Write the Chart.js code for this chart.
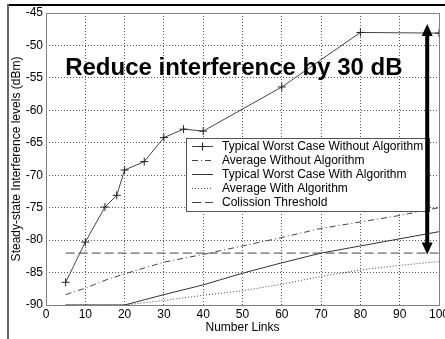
<!DOCTYPE html>
<html lang="en">
<head>
  <meta charset="UTF-8" />
  <title>Steady-state interference</title>
  <script src="https://cdn.jsdelivr.net/npm/chart.js"></script>
  <style>
    html, body { margin: 0; padding: 0; background: #fff; overflow: hidden; }
    #wrap { position: relative; width: 445px; height: 339px; }
    canvas { position: absolute; left: 0; top: 0; }
    .frameTop { position: absolute; left: 7px; top: 4px; width: 438px; height: 2px; background: #000; }
    .frameLeft { position: absolute; left: 7px; top: 4px; width: 2px; height: 335px; background: #666; }
  </style>
</head>
<body>
  <div id="wrap">
    <canvas id="chart" width="445" height="339"></canvas>
    <div class="frameTop"></div>
    <div class="frameLeft"></div>
  </div>

  <script>
    // values
    const linksWorst = [5, 10, 15, 18, 20, 25, 30, 35, 40, 60, 80, 100];
    const worstNoAlg = [-86.5, -80.3, -74.9, -73.1, -69.2, -67.9, -64.2, -62.9, -63.2, -56.4, -48.0, -48.1];

    const links = [5, 10, 15, 20, 25, 30, 40, 50, 60, 70, 80, 90, 100];
    const avgNoAlg = [-88.4, -87.4, -86.2, -85.2, -84.3, -83.4, -82.2, -80.9, -79.6, -78.2, -77.2, -76.2, -75.0];
    const worstAlg = [-90, -90, -90, -90, -89.2, -88.4, -86.9, -85.1, -83.5, -82.0, -80.9, -79.8, -78.7];
    const avgAlg = [-90, -90, -90, -90, -89.65, -89.3, -88.5, -87.8, -86.8, -85.6, -84.6, -83.9, -83.3];
    const threshold = -82;

    const seriesNames = [
      'Typical Worst Case Without Algorithm',
      'Average Without Algorithm',
      'Typical Worst Case With Algorithm',
      'Average With Algorithm',
      'Colission Threshold'
    ];

    const note = 'Reduce interference by 30 dB';
    const noteAt = { x: 47.8, y: -54.6 };
    const arrow = { x: 97, top: -46.7, bottom: -82.2 };

    const FONT = '"Liberation Sans", Arial, sans-serif';
    const pts = (xs, ys) => xs.map((x, i) => ({ x: x, y: ys[i] }));

    const overlay = {
      id: 'overlay',
      afterDatasetsDraw(chart) {
        const { ctx, chartArea: a, scales: { x, y } } = chart;
        ctx.save();

        // plot box
        ctx.strokeStyle = '#808080';
        ctx.lineWidth = 1;
        ctx.setLineDash([]);
        ctx.strokeRect(Math.round(a.left) + 0.5, Math.round(a.top) + 0.5,
          Math.round(a.right - a.left), Math.round(a.bottom - a.top));

        // big note
        ctx.fillStyle = '#000';
        ctx.font = 'bold 24px ' + FONT;
        ctx.textAlign = 'center';
        ctx.textBaseline = 'alphabetic';
        ctx.fillText(note, x.getPixelForValue(noteAt.x), y.getPixelForValue(noteAt.y));

        // legend box
        const bx = 186.5, by = 138.5, bw = 243, bh = 73;
        ctx.fillStyle = '#fff';
        ctx.fillRect(bx, by, bw, bh);
        ctx.strokeStyle = '#555';
        ctx.strokeRect(bx, by, bw, bh);
        ctx.font = '12px ' + FONT;
        ctx.textAlign = 'left';
        ctx.textBaseline = 'middle';
        chart.data.datasets.forEach((ds, i) => {
          const ry = Math.round(146 + i * 13.9) + 0.5;
          ctx.strokeStyle = ds.borderColor;
          ctx.lineWidth = ds.borderWidth;
          ctx.setLineDash(ds.borderDash || []);
          ctx.beginPath();
          ctx.moveTo(192, ry);
          ctx.lineTo(213, ry);
          ctx.stroke();
          ctx.setLineDash([]);
          if (ds.pointRadius > 0) {
            ctx.strokeStyle = ds.pointBorderColor;
            ctx.beginPath();
            ctx.moveTo(202.5 - 4, ry); ctx.lineTo(202.5 + 4, ry);
            ctx.moveTo(202.5, ry - 4); ctx.lineTo(202.5, ry + 4);
            ctx.stroke();
          }
          ctx.fillStyle = '#000';
          ctx.fillText(ds.label, 222, ry + 0.5);
        });

        // double arrow
        const px = x.getPixelForValue(arrow.x);
        const t = y.getPixelForValue(arrow.top);
        const b = y.getPixelForValue(arrow.bottom);
        ctx.fillStyle = '#000';
        ctx.fillRect(px - 2, t + 10, 4, b - t - 20);
        ctx.beginPath();
        ctx.moveTo(px, t); ctx.lineTo(px - 5.5, t + 12); ctx.lineTo(px + 5.5, t + 12);
        ctx.closePath();
        ctx.fill();
        ctx.beginPath();
        ctx.moveTo(px, b); ctx.lineTo(px - 5.5, b - 12); ctx.lineTo(px + 5.5, b - 12);
        ctx.closePath();
        ctx.fill();

        ctx.restore();
      }
    };

    const ctx = document.getElementById('chart').getContext('2d');
    const chart = new Chart(ctx, {
      type: 'line',
      data: {
        datasets: [{
          label: seriesNames[0],
          data: pts(linksWorst, worstNoAlg),
          borderColor: '#444',
          borderWidth: 1,
          pointStyle: 'cross',
          pointRadius: 4,
          pointBorderColor: '#222',
          pointBorderWidth: 1
        }, {
          label: seriesNames[1],
          data: pts(links, avgNoAlg),
          borderColor: '#444',
          borderWidth: 1,
          borderDash: [6, 3, 1, 3],
          pointRadius: 0
        }, {
          label: seriesNames[2],
          data: pts(links, worstAlg),
          borderColor: '#333',
          borderWidth: 1,
          pointRadius: 0
        }, {
          label: seriesNames[3],
          data: pts(links, avgAlg),
          borderColor: '#444',
          borderWidth: 1,
          borderDash: [1, 2],
          pointRadius: 0
        }, {
          label: seriesNames[4],
          data: pts([links[0], links[links.length - 1]], [threshold, threshold]),
          borderColor: '#444',
          borderWidth: 1,
          borderDash: [9, 4],
          pointRadius: 0
        }]
      },
      options: {
        responsive: false,
        animation: false,
        events: [],
        layout: { padding: { top: 13, right: 6, bottom: 0, left: 0 } },
        elements: { line: { tension: 0 } },
        plugins: {
          legend: { display: false },
          tooltip: { enabled: false }
        },
        scales: {
          x: {
            type: 'linear',
            min: 0,
            max: 100,
            ticks: {
              stepSize: 10,
              color: '#000',
              font: { family: FONT, size: 12 },
              padding: 2,
              maxRotation: 0
            },
            grid: { color: '#555', lineWidth: 1, drawTicks: false },
            border: { display: false, dash: [1, 2] },
            title: {
              display: true,
              text: 'Number Links',
              color: '#000',
              font: { family: FONT, size: 12 },
              padding: { top: 0, bottom: 4 }
            },
            afterFit(s) { s.height = 34; s.paddingLeft = 0; s.paddingRight = 0; }
          },
          y: {
            min: -90,
            max: -45,
            ticks: {
              stepSize: 5,
              color: '#000',
              font: { family: FONT, size: 12 },
              padding: 3,
              callback: v => String(v)
            },
            grid: { color: '#555', lineWidth: 1, drawTicks: false },
            border: { display: false, dash: [1, 2] },
            title: {
              display: true,
              text: 'Steady-state Interference levels (dBm)',
              color: '#000',
              font: { family: FONT, size: 12 },
              padding: { top: 9, bottom: 0 }
            },
            afterFit(s) { s.width = 46; s.paddingTop = 0; s.paddingBottom = 0; }
          }
        }
      },
      plugins: [overlay]
    });
  </script>
</body>
</html>
